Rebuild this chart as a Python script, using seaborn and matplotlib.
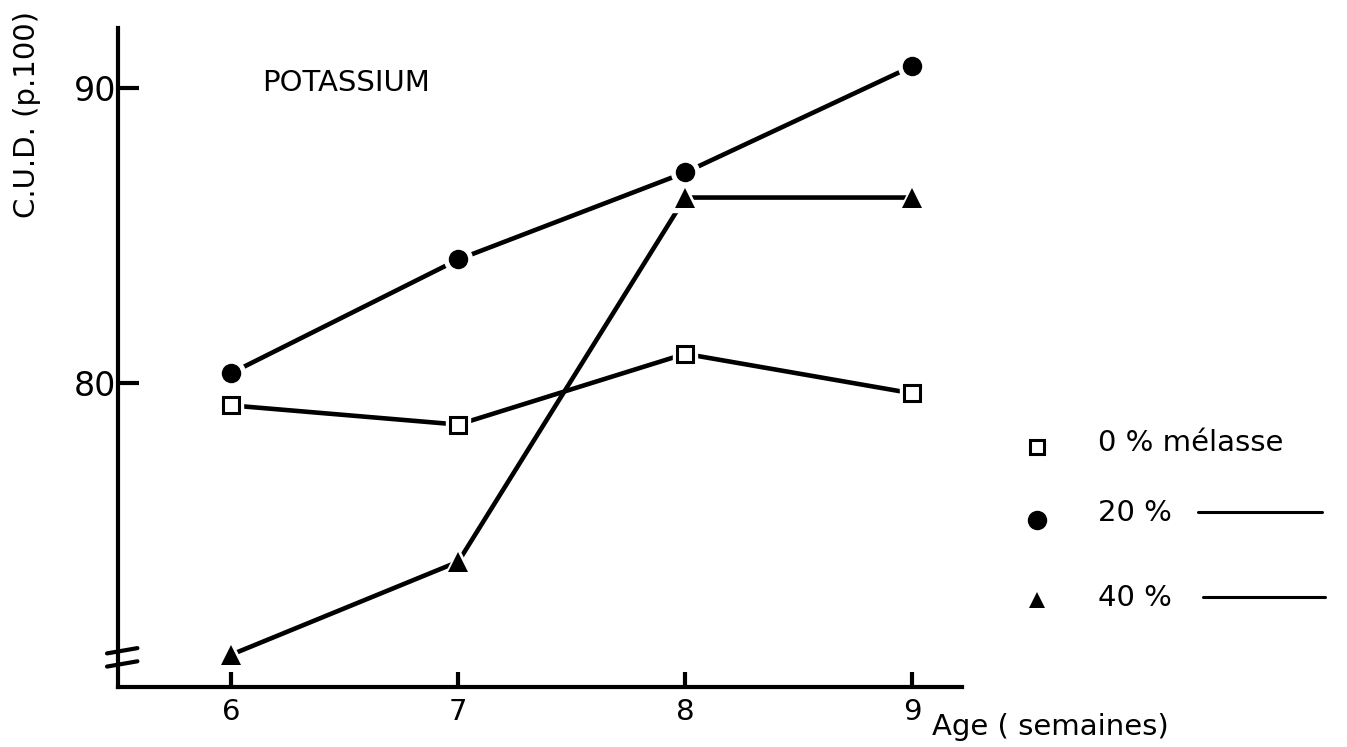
import matplotlib
matplotlib.use("Agg")
import matplotlib.pyplot as plt
import seaborn as sns
import pandas as pd
from matplotlib.lines import Line2D

# ---- data ----
ages = [6, 7, 8, 9]
melasse_0 = [79.25, 78.6, 81.0, 79.66]
melasse_20 = [80.35, 84.2, 87.15, 90.75]
melasse_40 = [70.8, 73.95, 86.3, 86.3]
series_names = ["0 % mélasse", "20 %", "40 %"]
x_ticks = [6, 7, 8, 9]
y_ticks = [80, 90]

sns.set_theme(style="white")
plt.rcParams['font.family'] = ['DejaVu Sans']
plt.rcParams['text.color'] = 'black'

df = pd.DataFrame({
    "age": ages * 3,
    "cud": melasse_0 + melasse_20 + melasse_40,
    "serie": [series_names[0]] * 4 + [series_names[1]] * 4 + [series_names[2]] * 4,
})

fig = plt.figure(figsize=(13.47, 7.47), dpi=100)
ax = fig.add_axes([118 / 1347, 1 - 687 / 747, (962 - 118) / 1347, (687 - 28) / 747])

marker_map = {series_names[0]: "s", series_names[1]: "o", series_names[2]: "^"}
size_map = {series_names[0]: 11, series_names[1]: 14, series_names[2]: 14}

for name in series_names:
    sub = df[df["serie"] == name]
    sns.lineplot(data=sub, x="age", y="cud", ax=ax, color="black", lw=3.3,
                 legend=False, zorder=2)
    m = marker_map[name]
    ms = size_map[name]
    # white halo to create the gap between line and marker
    ax.plot(sub["age"], sub["cud"], ls="none", marker=m, ms=ms + 6,
            mfc="white", mec="white", zorder=3, clip_on=False)
    if m == "s":
        ax.plot(sub["age"], sub["cud"], ls="none", marker=m, ms=ms,
                mfc="white", mec="black", mew=2.2, zorder=4, clip_on=False)
    else:
        ax.plot(sub["age"], sub["cud"], ls="none", marker=m, ms=ms,
                mfc="black", mec="black", mew=0, zorder=4, clip_on=False)

ax.set_xlim(5.5, 9.22)
ax.set_ylim(69.7, 92.05)
ax.set_xticks(x_ticks)
ax.set_xticklabels([str(v) for v in x_ticks])
ax.set_yticks(y_ticks)
ax.set_yticklabels([str(v) for v in y_ticks])
ax.set_xlabel("")
ax.set_ylabel("")

for s in ["top", "right"]:
    ax.spines[s].set_visible(False)
for s in ["left", "bottom"]:
    ax.spines[s].set_linewidth(3)
    ax.spines[s].set_color("black")

ax.tick_params(axis="x", direction="in", length=11, width=3, labelsize=21, pad=8,
               colors="black", bottom=True)
ax.tick_params(axis="y", direction="in", length=15, width=3, labelsize=24, pad=1,
               colors="black", left=True)
ax.grid(False)

# axis break marks
for yb in [0.035, 0.055]:
    ax.plot([-0.013, 0.023], [yb - 0.004, yb + 0.004], transform=ax.transAxes,
            color="black", lw=3, clip_on=False, solid_capstyle="round")

# texts
fig.text(27 / 1347, 1 - 115 / 747, "C.U.D. (p.100)", rotation=90, ha="center",
         va="center", fontsize=21, color="black")
fig.text(262 / 1347, 1 - 83 / 747, "POTASSIUM", ha="left", va="center",
         fontsize=21, color="black")
fig.text(932 / 1347, 1 - 727 / 747, "Age ( semaines)", ha="left", va="center",
         fontsize=21, color="black")

# legend (drawn manually)
leg_marker_x = 1037 / 1347
leg_rows = [447, 520, 600]
leg_text_y = [443, 513, 598]
for i, name in enumerate(series_names):
    yy = 1 - leg_rows[i] / 747
    m = marker_map[name]
    if m == "s":
        fig.add_artist(Line2D([leg_marker_x], [yy], ls="none", marker="s", ms=10,
                              mfc="white", mec="black", mew=2.2))
    else:
        fig.add_artist(Line2D([leg_marker_x], [yy], ls="none", marker=m,
                              ms=14 if m == "o" else 12, mfc="black", mec="black", mew=0))
    fig.text(1098 / 1347, 1 - leg_text_y[i] / 747, name, ha="left", va="center",
             fontsize=21, color="black")

fig.add_artist(Line2D([1198 / 1347, 1322 / 1347], [1 - 512 / 747, 1 - 512 / 747],
                      color="black", lw=2.2))
fig.add_artist(Line2D([1203 / 1347, 1325 / 1347], [1 - 597 / 747, 1 - 597 / 747],
                      color="black", lw=2.2))

fig.savefig("out.png", dpi=100, facecolor="white")
